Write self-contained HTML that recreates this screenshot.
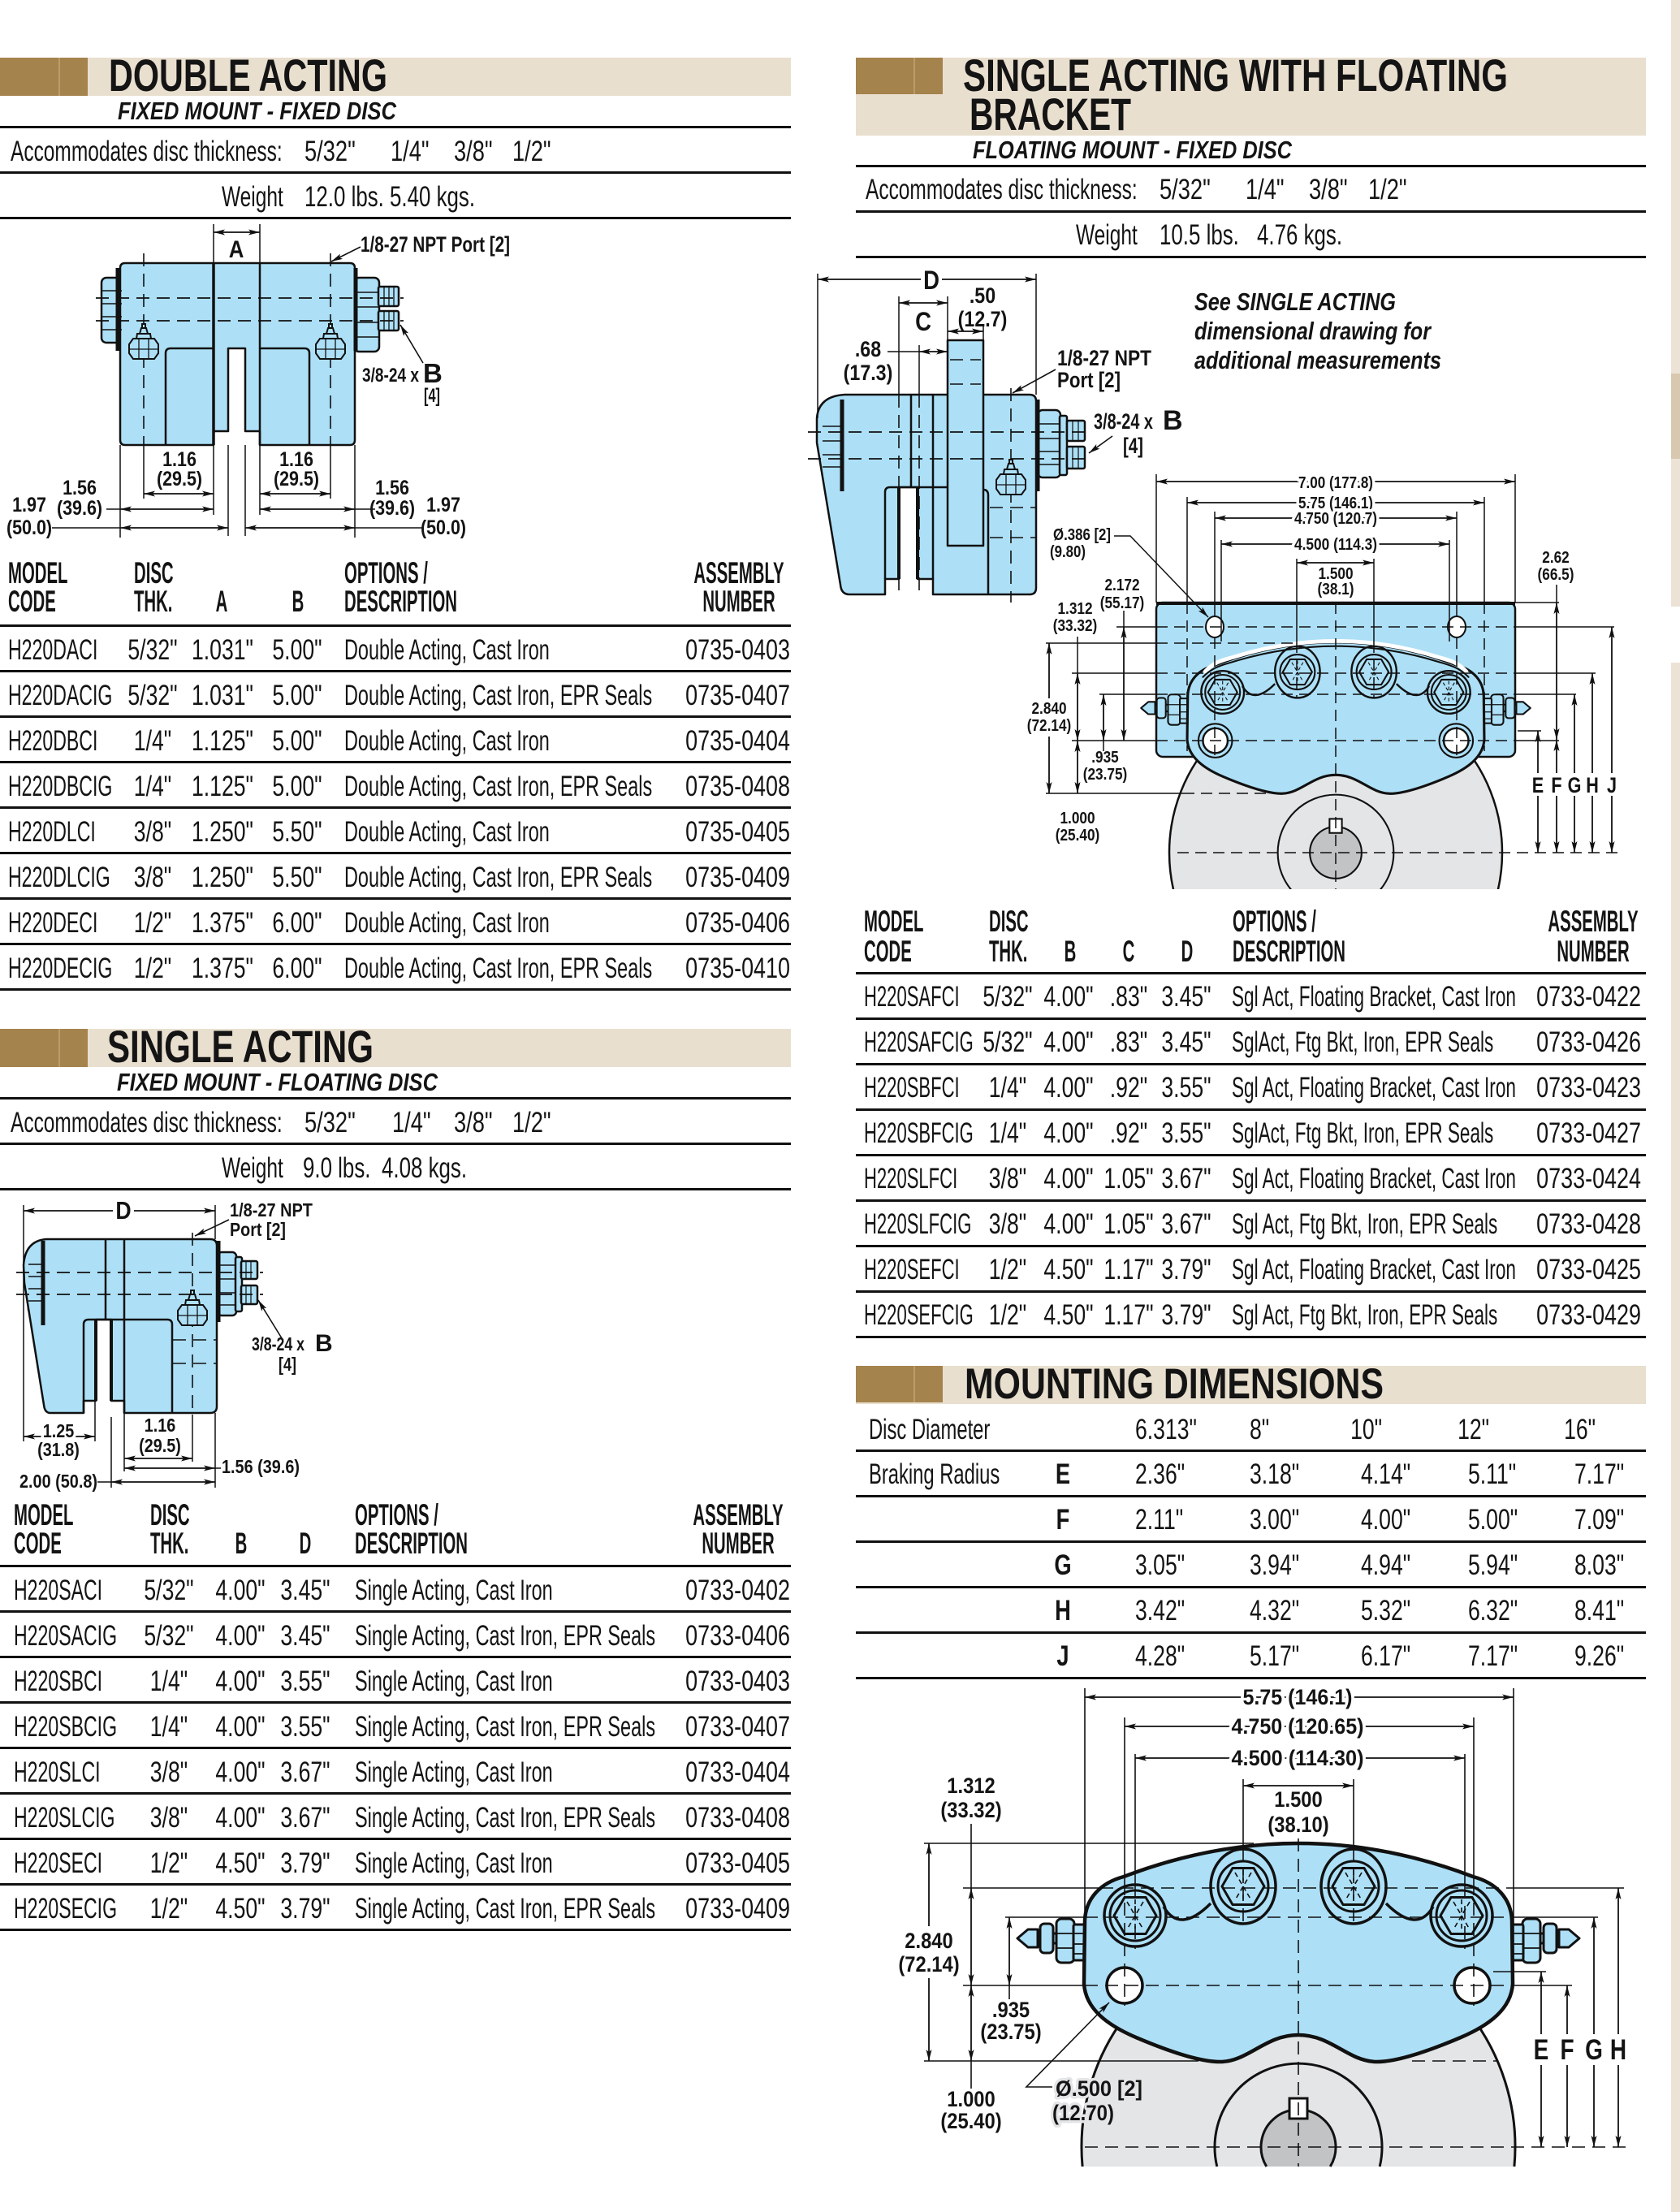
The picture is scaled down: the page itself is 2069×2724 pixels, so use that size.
<!DOCTYPE html>
<html><head><meta charset="utf-8"><title>H220 Caliper Specifications</title>
<style>
html,body{margin:0;padding:0;background:#fff;width:2069px;height:2724px;overflow:hidden}
svg{display:block}
text{font-family:"Liberation Sans",Arial,Helvetica,sans-serif;fill:#141414;stroke:none}
.b{font-weight:bold}
.i{font-style:italic}
.h{stroke:#fff;stroke-width:8px;paint-order:stroke;stroke-linejoin:round}
.hg{stroke:#e4e5e7;stroke-width:7px;paint-order:stroke;stroke-linejoin:round}
.t{font-size:35px}
.hd{font-size:37px;font-weight:bold}
</style></head><body>
<svg width="2069" height="2724" viewBox="0 0 2069 2724" xmlns="http://www.w3.org/2000/svg">
<defs>
<marker id="a" viewBox="0 0 14 8" refX="14" refY="4" markerWidth="14" markerHeight="8" orient="auto-start-reverse" markerUnits="userSpaceOnUse"><path d="M0,0.5 L14,4 L0,7.5 L3,4 z" fill="#111" stroke="none"/></marker>
<clipPath id="c4"><rect x="1380" y="700" width="540" height="395"/></clipPath>
<g id="bl" stroke="#111" stroke-width="2" fill="#ade0f7">
 <path d="M-18,-3 L-13,-10 H13 L18,-3 V8 L13,15 H-13 L-18,8 Z"/>
 <path d="M-6,-10 V15 M6,-10 V15 M-18,3 H18" fill="none" stroke-width="1.3"/>
 <path d="M-9,-10 L-8,-16 H8 L9,-10 Z"/>
 <path d="M-5,-16 L-3,-23 H3 L5,-16 Z"/>
 <rect x="-2" y="-28" width="4" height="5"/>
</g>
<g id="pst" stroke="#111">
 <circle r="31" fill="none" stroke-width="3"/>
 <polygon points="26,0 13,22.5 -13,22.5 -26,0 -13,-22.5 13,-22.5" fill="#ade0f7" stroke-width="3"/>
 <path d="M0,-20V20 M-10,-17 L10,17 M10,-17 L-10,17" stroke-width="1.6" stroke-dasharray="6 4" fill="none"/>
</g>
<g id="hub" stroke="#111" stroke-width="3">
 <circle r="103" fill="none"/>
 <circle r="46" fill="#c2c3c5"/>
 <rect x="-11" y="-60" width="22" height="25" fill="#fff"/>
</g>
<g id="blr" fill="#ade0f7" stroke="#111" stroke-width="3">
 <path d="M-346,-257 L-333,-268 H-321 V-246 H-333 Z"/>
 <rect x="-321" y="-263" width="64" height="12"/>
 <rect x="-318" y="-275" width="16" height="36" rx="5"/>
 <rect x="-298" y="-281" width="22" height="54" rx="6"/>
 <rect x="-277" y="-274" width="15" height="44" rx="2"/>
 <path d="M-298,-263h22M-298,-245h22M-277,-263h15M-277,-250h15M-277,-238h15" fill="none" stroke-width="1.8"/>
</g>
<g id="cal" stroke="#111" stroke-width="3.5" stroke-linejoin="round">
 <use href="#blr"/>
 <use href="#blr" transform="scale(-1,1)"/>
 <path d="M-263,-279 C-262,-305 -245,-325 -215,-333 Q0,-415 215,-333 C245,-325 262,-305 263,-279 L264,-201 C262,-170 235,-150 200,-135 C160,-118 120,-104 94,-105 C60,-107 40,-138 0,-138 C-40,-138 -60,-107 -94,-105 C-120,-104 -160,-118 -200,-135 C-235,-150 -262,-170 -264,-201 Z" fill="#ade0f7" stroke-width="4.5"/>
 <circle cx="-201" cy="-285" r="38" fill="none"/>
 <circle cx="201" cy="-285" r="38" fill="none"/>
 <ellipse cx="-68" cy="-321" rx="40" ry="46" fill="none"/>
 <ellipse cx="68" cy="-321" rx="40" ry="46" fill="none"/>
 <path d="M-166,-296 Q-146,-262 -108,-300 M166,-296 Q146,-262 108,-300" fill="none"/>
 <use href="#pst" x="-201" y="-285"/>
 <use href="#pst" x="-68" y="-321"/>
 <use href="#pst" x="68" y="-321"/>
 <use href="#pst" x="201" y="-285"/>
 <circle cx="-214" cy="-199" r="22" fill="#fff"/>
 <circle cx="214" cy="-199" r="22" fill="#fff"/>
</g>
</defs>

<!-- right edge strip -->
<rect x="2058" y="0" width="11" height="747" fill="#ece3d6"/>
<rect x="2058" y="816" width="11" height="1908" fill="#ece3d6"/>
<rect x="2058" y="460" width="11" height="105" fill="#d8c8b0"/>

<!-- ============ LEFT: DOUBLE ACTING ============ -->
<rect x="0" y="71" width="974" height="47" fill="#e9dfcf"/>
<rect x="0" y="71" width="108" height="47" fill="#a5834d"/>
<rect x="72" y="71" width="2" height="47" fill="#bc9c6c"/>
<text class="b" x="134" y="112" font-size="56" textLength="343" lengthAdjust="spacingAndGlyphs">DOUBLE ACTING</text>
<text class="b i" x="145" y="147" font-size="31" textLength="343" lengthAdjust="spacingAndGlyphs">FIXED MOUNT - FIXED DISC</text>
<g fill="#111">
<rect x="0" y="155" width="974" height="3"/><rect x="0" y="211" width="974" height="3"/><rect x="0" y="267" width="974" height="3"/>
</g>
<g class="t">
<text transform="translate(13,198) scale(.7,1)">Accommodates disc thickness:</text>
<text transform="translate(375,198) scale(.78,1)">5/32"</text>
<text transform="translate(481,198) scale(.78,1)">1/4"</text>
<text transform="translate(559,198) scale(.78,1)">3/8"</text>
<text transform="translate(631,198) scale(.78,1)">1/2"</text>
<text transform="translate(273,254) scale(.7,1)">Weight</text>
<text transform="translate(375,254) scale(.74,1)">12.0 lbs. 5.40 kgs.</text>
</g>

<!-- Drawing 1 -->
<g stroke="#111" stroke-width="2.5" fill="#ade0f7" stroke-linejoin="round">
 <rect x="125" y="342" width="25" height="80" rx="6"/>
 <rect x="436" y="342" width="31" height="91" rx="6"/>
 <rect x="466" y="353" width="25" height="24" rx="2"/>
 <rect x="466" y="383" width="25" height="24" rx="2"/>
 <path d="M154,324 H431 Q437,324 437,330 V542 Q437,548 431,548 H320 V531 H302 V429 H281 V531 H263 V548 H154 Q148,548 148,542 V330 Q148,324 154,324 Z"/>
</g>
<g stroke="#111" fill="none">
 <path d="M125,358h25M125,374h25M125,390h25M125,406h25" stroke-width="1.5"/>
 <path d="M436,360h31M436,378h31M436,397h31M436,415h31" stroke-width="1.5"/>
 <path d="M473,353v24M479,353v24M485,353v24M473,383v24M479,383v24M485,383v24" stroke-width="1.3"/>
 <path d="M320,324V548M204,548V435Q204,429 210,429H263M381,548V435Q381,429 375,429H320" stroke-width="2.5"/>
 <path d="M263,324V548" stroke-width="3.5"/>
 <path d="M145,330V432M438,330V432" stroke-width="5"/>
 <path d="M118,367H497M118,395H497" stroke-width="1.8" stroke-dasharray="16 9"/>
 <path d="M177,312V548M407,312V548" stroke-width="1.6" stroke-dasharray="16 9"/>
 <path d="M263,276V324M320,276V324" stroke-width="1.5"/>
 <path d="M148,548V662M177,548V614M263,548V634M281,548V660M302,548V660M320,548V634M407,548V614M437,548V662" stroke-width="1.5"/>
 <path d="M131,627H148M437,627H462M64,650H148M437,650H520" stroke-width="1.5"/>
</g>
<use href="#bl" x="177" y="427"/>
<use href="#bl" x="407" y="427"/>
<g stroke="#111" stroke-width="1.8" marker-start="url(#a)" marker-end="url(#a)">
 <line x1="263" y1="286" x2="320" y2="286"/>
 <line x1="177" y1="608" x2="263" y2="608"/>
 <line x1="320" y1="608" x2="407" y2="608"/>
 <line x1="148" y1="627" x2="263" y2="627"/>
 <line x1="320" y1="627" x2="437" y2="627"/>
 <line x1="148" y1="650" x2="281" y2="650"/>
 <line x1="302" y1="650" x2="437" y2="650"/>
</g>
<g stroke="#111" stroke-width="1.6" marker-end="url(#a)">
 <line x1="444" y1="304" x2="408" y2="322"/>
 <line x1="521" y1="447" x2="493" y2="400"/>
</g>
<g class="b">
 <text transform="translate(291,317) scale(.86,1)" text-anchor="middle" font-size="30">A</text>
 <text x="444" y="310" font-size="27" textLength="184" lengthAdjust="spacingAndGlyphs">1/8-27 NPT Port [2]</text>
 <text x="446" y="470" font-size="24" textLength="70" lengthAdjust="spacingAndGlyphs">3/8-24 x</text>
 <text x="521" y="471" font-size="33">B</text>
 <text x="522" y="495" font-size="24" textLength="20" lengthAdjust="spacingAndGlyphs">[4]</text>
 <g font-size="25" text-anchor="middle">
  <text transform="translate(221,574) scale(.86,1)">1.16</text><text transform="translate(221,598) scale(.86,1)">(29.5)</text>
  <text transform="translate(365,574) scale(.86,1)">1.16</text><text transform="translate(365,598) scale(.86,1)">(29.5)</text>
  <text transform="translate(98,609) scale(.86,1)">1.56</text><text transform="translate(98,634) scale(.86,1)">(39.6)</text>
  <text transform="translate(483,609) scale(.86,1)">1.56</text><text transform="translate(483,634) scale(.86,1)">(39.6)</text>
  <text transform="translate(36,630) scale(.86,1)">1.97</text><text transform="translate(36,658) scale(.86,1)">(50.0)</text>
  <text transform="translate(546,630) scale(.86,1)">1.97</text><text transform="translate(546,658) scale(.86,1)">(50.0)</text>
 </g>
</g>

<!-- Table 1 -->
<g class="hd">
 <g transform="translate(10,0) scale(.55,1)"><text y="718">MODEL</text><text y="753">CODE</text></g>
 <g transform="translate(165,0) scale(.55,1)"><text y="718">DISC</text><text y="753">THK.</text></g>
 <g transform="translate(273,0) scale(.55,1)" text-anchor="middle"><text y="753">A</text></g>
 <g transform="translate(367,0) scale(.55,1)" text-anchor="middle"><text y="753">B</text></g>
 <g transform="translate(424,0) scale(.55,1)"><text y="718">OPTIONS /</text><text y="753">DESCRIPTION</text></g>
 <g transform="translate(910,0) scale(.55,1)" text-anchor="middle"><text y="718">ASSEMBLY</text><text y="753">NUMBER</text></g>
</g>
<g fill="#111">
 <rect x="0" y="769" width="974" height="3"/><rect x="0" y="825" width="974" height="3"/><rect x="0" y="881" width="974" height="3"/><rect x="0" y="937" width="974" height="3"/><rect x="0" y="993" width="974" height="3"/><rect x="0" y="1049" width="974" height="3"/><rect x="0" y="1105" width="974" height="3"/><rect x="0" y="1161" width="974" height="3"/><rect x="0" y="1217" width="974" height="3"/>
</g>
<g class="t">
 <g transform="translate(10,0) scale(.66,1)"><text y="812">H220DACI</text><text y="868">H220DACIG</text><text y="924">H220DBCI</text><text y="980">H220DBCIG</text><text y="1036">H220DLCI</text><text y="1092">H220DLCIG</text><text y="1148">H220DECI</text><text y="1204">H220DECIG</text></g>
 <g transform="translate(188,0) scale(.76,1)" text-anchor="middle"><text y="812">5/32"</text><text y="868">5/32"</text><text y="924">1/4"</text><text y="980">1/4"</text><text y="1036">3/8"</text><text y="1092">3/8"</text><text y="1148">1/2"</text><text y="1204">1/2"</text></g>
 <g transform="translate(274,0) scale(.76,1)" text-anchor="middle"><text y="812">1.031"</text><text y="868">1.031"</text><text y="924">1.125"</text><text y="980">1.125"</text><text y="1036">1.250"</text><text y="1092">1.250"</text><text y="1148">1.375"</text><text y="1204">1.375"</text></g>
 <g transform="translate(366,0) scale(.76,1)" text-anchor="middle"><text y="812">5.00"</text><text y="868">5.00"</text><text y="924">5.00"</text><text y="980">5.00"</text><text y="1036">5.50"</text><text y="1092">5.50"</text><text y="1148">6.00"</text><text y="1204">6.00"</text></g>
 <g transform="translate(424,0) scale(.67,1)"><text y="812">Double Acting, Cast Iron</text><text y="868">Double Acting, Cast Iron, EPR Seals</text><text y="924">Double Acting, Cast Iron</text><text y="980">Double Acting, Cast Iron, EPR Seals</text><text y="1036">Double Acting, Cast Iron</text><text y="1092">Double Acting, Cast Iron, EPR Seals</text><text y="1148">Double Acting, Cast Iron</text><text y="1204">Double Acting, Cast Iron, EPR Seals</text></g>
 <g transform="translate(973,0) scale(.77,1)" text-anchor="end"><text y="812">0735-0403</text><text y="868">0735-0407</text><text y="924">0735-0404</text><text y="980">0735-0408</text><text y="1036">0735-0405</text><text y="1092">0735-0409</text><text y="1148">0735-0406</text><text y="1204">0735-0410</text></g>
</g>

<!-- ============ LEFT: SINGLE ACTING ============ -->
<rect x="0" y="1267" width="974" height="47" fill="#e9dfcf"/>
<rect x="0" y="1267" width="108" height="47" fill="#a5834d"/>
<rect x="72" y="1267" width="2" height="47" fill="#bc9c6c"/>
<text class="b" x="132" y="1308" font-size="56" textLength="328" lengthAdjust="spacingAndGlyphs">SINGLE ACTING</text>
<text class="b i" x="144" y="1343" font-size="31" textLength="395" lengthAdjust="spacingAndGlyphs">FIXED MOUNT - FLOATING DISC</text>
<g fill="#111">
<rect x="0" y="1351" width="974" height="3"/><rect x="0" y="1407" width="974" height="3"/><rect x="0" y="1463" width="974" height="3"/>
</g>
<g class="t">
<text transform="translate(13,1394) scale(.7,1)">Accommodates disc thickness:</text>
<text transform="translate(375,1394) scale(.78,1)">5/32"</text>
<text transform="translate(483,1394) scale(.78,1)">1/4"</text>
<text transform="translate(559,1394) scale(.78,1)">3/8"</text>
<text transform="translate(631,1394) scale(.78,1)">1/2"</text>
<text transform="translate(273,1450) scale(.7,1)">Weight</text>
<text transform="translate(373,1450) scale(.74,1)">9.0 lbs.</text>
<text transform="translate(470,1450) scale(.74,1)">4.08 kgs.</text>
</g>

<!-- Drawing 2 -->
<g stroke="#111" stroke-width="2.5" fill="#ade0f7" stroke-linejoin="round">
 <rect x="35" y="1542" width="20" height="75" rx="5"/>
 <rect x="268" y="1542" width="23" height="78" rx="5"/>
 <rect x="290" y="1548" width="8" height="67" rx="2"/>
 <rect x="297" y="1553" width="20" height="22" rx="2"/>
 <rect x="297" y="1583" width="20" height="23" rx="2"/>
 <path d="M57,1526 H259 Q267,1526 267,1534 V1732 Q267,1740 259,1740 H153 V1725 H137 V1625 H118 V1725 H103 V1740 H62 Q55,1740 54,1730 L30,1580 L29,1558 Q31,1528 57,1526 Z"/>
</g>
<g stroke="#111" fill="none">
 <path d="M35,1557h20M35,1572h20M35,1587h20M35,1602h20" stroke-width="1.4"/>
 <path d="M268,1558h23M268,1575h23M268,1592h23M268,1607h23" stroke-width="1.4"/>
 <path d="M303,1553v22M309,1553v22M303,1583v23M309,1583v23" stroke-width="1.2"/>
 <path d="M103,1740 V1631 Q103,1625 109,1625 H206 Q212,1625 212,1631 V1740 M130,1526 V1625 M153,1526 V1740" stroke-width="2.5"/>
 <path d="M118,1625V1725M137,1625V1725" stroke-width="4"/>
 <path d="M53,1528V1632M269,1528V1628" stroke-width="5"/>
 <path d="M20,1567H324M20,1594H324" stroke-width="1.8" stroke-dasharray="16 9"/>
 <path d="M237,1518V1742M213,1650H266M213,1679H266" stroke-width="1.6" stroke-dasharray="16 9"/>
 <path d="M29,1484V1775M265,1484V1526M117,1725V1775M137,1745V1832M153,1740V1812M237,1742V1800M265,1740V1832M265,1808H272M120,1825H137" stroke-width="1.5"/>
</g>
<use href="#bl" x="237" y="1617"/>
<g stroke="#111" stroke-width="1.8" marker-start="url(#a)" marker-end="url(#a)">
 <line x1="29" y1="1491" x2="265" y2="1491"/>
 <line x1="29" y1="1769" x2="117" y2="1769"/>
 <line x1="153" y1="1796" x2="237" y2="1796"/>
 <line x1="153" y1="1808" x2="265" y2="1808"/>
 <line x1="137" y1="1825" x2="265" y2="1825"/>
</g>
<g stroke="#111" stroke-width="1.6" marker-end="url(#a)">
 <line x1="282" y1="1502" x2="240" y2="1522"/>
 <line x1="347" y1="1648" x2="318" y2="1601"/>
</g>
<rect x="139" y="1476" width="26" height="28" fill="#fff"/>
<g class="b">
 <text transform="translate(152,1501) scale(.86,1)" text-anchor="middle" font-size="31">D</text>
 <text x="283" y="1498" font-size="23" textLength="102" lengthAdjust="spacingAndGlyphs">1/8-27 NPT</text>
 <text x="283" y="1522" font-size="23" textLength="69" lengthAdjust="spacingAndGlyphs">Port [2]</text>
 <text x="310" y="1663" font-size="23" textLength="65" lengthAdjust="spacingAndGlyphs">3/8-24 x</text>
 <text x="388" y="1664" font-size="30">B</text>
 <text x="343" y="1688" font-size="23" textLength="22" lengthAdjust="spacingAndGlyphs">[4]</text>
 <g font-size="23" text-anchor="middle">
  <text class="h" transform="translate(72,1770) scale(.86,1)">1.25</text><text transform="translate(72,1793) scale(.86,1)">(31.8)</text>
  <text transform="translate(197,1763) scale(.86,1)">1.16</text><text transform="translate(197,1788) scale(.86,1)">(29.5)</text>
 </g>
 <text x="273" y="1814" font-size="23" textLength="96" lengthAdjust="spacingAndGlyphs">1.56 (39.6)</text>
 <text x="24" y="1832" font-size="23" textLength="96" lengthAdjust="spacingAndGlyphs">2.00 (50.8)</text>
</g>

<!-- Table 2 -->
<g class="hd">
 <g transform="translate(17,0) scale(.55,1)"><text y="1878">MODEL</text><text y="1913">CODE</text></g>
 <g transform="translate(185,0) scale(.55,1)"><text y="1878">DISC</text><text y="1913">THK.</text></g>
 <g transform="translate(297,0) scale(.55,1)" text-anchor="middle"><text y="1913">B</text></g>
 <g transform="translate(376,0) scale(.55,1)" text-anchor="middle"><text y="1913">D</text></g>
 <g transform="translate(437,0) scale(.55,1)"><text y="1878">OPTIONS /</text><text y="1913">DESCRIPTION</text></g>
 <g transform="translate(909,0) scale(.55,1)" text-anchor="middle"><text y="1878">ASSEMBLY</text><text y="1913">NUMBER</text></g>
</g>
<g fill="#111">
 <rect x="0" y="1927" width="974" height="3"/><rect x="0" y="1983" width="974" height="3"/><rect x="0" y="2039" width="974" height="3"/><rect x="0" y="2095" width="974" height="3"/><rect x="0" y="2151" width="974" height="3"/><rect x="0" y="2207" width="974" height="3"/><rect x="0" y="2263" width="974" height="3"/><rect x="0" y="2319" width="974" height="3"/><rect x="0" y="2375" width="974" height="3"/>
</g>
<g class="t">
 <g transform="translate(17,0) scale(.66,1)"><text y="1970">H220SACI</text><text y="2026">H220SACIG</text><text y="2082">H220SBCI</text><text y="2138">H220SBCIG</text><text y="2194">H220SLCI</text><text y="2250">H220SLCIG</text><text y="2306">H220SECI</text><text y="2362">H220SECIG</text></g>
 <g transform="translate(208,0) scale(.76,1)" text-anchor="middle"><text y="1970">5/32"</text><text y="2026">5/32"</text><text y="2082">1/4"</text><text y="2138">1/4"</text><text y="2194">3/8"</text><text y="2250">3/8"</text><text y="2306">1/2"</text><text y="2362">1/2"</text></g>
 <g transform="translate(296,0) scale(.76,1)" text-anchor="middle"><text y="1970">4.00"</text><text y="2026">4.00"</text><text y="2082">4.00"</text><text y="2138">4.00"</text><text y="2194">4.00"</text><text y="2250">4.00"</text><text y="2306">4.50"</text><text y="2362">4.50"</text></g>
 <g transform="translate(376,0) scale(.76,1)" text-anchor="middle"><text y="1970">3.45"</text><text y="2026">3.45"</text><text y="2082">3.55"</text><text y="2138">3.55"</text><text y="2194">3.67"</text><text y="2250">3.67"</text><text y="2306">3.79"</text><text y="2362">3.79"</text></g>
 <g transform="translate(437,0) scale(.67,1)"><text y="1970">Single Acting, Cast Iron</text><text y="2026">Single Acting, Cast Iron, EPR Seals</text><text y="2082">Single Acting, Cast Iron</text><text y="2138">Single Acting, Cast Iron, EPR Seals</text><text y="2194">Single Acting, Cast Iron</text><text y="2250">Single Acting, Cast Iron, EPR Seals</text><text y="2306">Single Acting, Cast Iron</text><text y="2362">Single Acting, Cast Iron, EPR Seals</text></g>
 <g transform="translate(973,0) scale(.77,1)" text-anchor="end"><text y="1970">0733-0402</text><text y="2026">0733-0406</text><text y="2082">0733-0403</text><text y="2138">0733-0407</text><text y="2194">0733-0404</text><text y="2250">0733-0408</text><text y="2306">0733-0405</text><text y="2362">0733-0409</text></g>
</g>

<!-- ============ RIGHT: FLOATING BRACKET ============ -->
<rect x="1054" y="71" width="973" height="96" fill="#e9dfcf"/>
<rect x="1054" y="71" width="107" height="45" fill="#a5834d"/>
<rect x="1125" y="71" width="2" height="45" fill="#bc9c6c"/>
<text class="b" x="1186" y="112" font-size="56" textLength="671" lengthAdjust="spacingAndGlyphs">SINGLE ACTING WITH FLOATING</text>
<text class="b" x="1194" y="160" font-size="56" textLength="199" lengthAdjust="spacingAndGlyphs">BRACKET</text>
<text class="b i" x="1198" y="195" font-size="31" textLength="393" lengthAdjust="spacingAndGlyphs">FLOATING MOUNT - FIXED DISC</text>
<g fill="#111">
<rect x="1054" y="203" width="973" height="3"/><rect x="1054" y="259" width="973" height="3"/><rect x="1054" y="315" width="973" height="3"/>
</g>
<g class="t">
<text transform="translate(1066,245) scale(.7,1)">Accommodates disc thickness:</text>
<text transform="translate(1428,245) scale(.78,1)">5/32"</text>
<text transform="translate(1534,245) scale(.78,1)">1/4"</text>
<text transform="translate(1612,245) scale(.78,1)">3/8"</text>
<text transform="translate(1685,245) scale(.78,1)">1/2"</text>
<text transform="translate(1325,301) scale(.7,1)">Weight</text>
<text transform="translate(1428,301) scale(.74,1)">10.5 lbs.</text>
<text transform="translate(1548,301) scale(.74,1)">4.76 kgs.</text>
</g>
<g class="b i" font-size="31">
 <text x="1471" y="382" textLength="248" lengthAdjust="spacingAndGlyphs">See SINGLE ACTING</text>
 <text x="1471" y="418" textLength="291" lengthAdjust="spacingAndGlyphs">dimensional drawing for</text>
 <text x="1471" y="454" textLength="304" lengthAdjust="spacingAndGlyphs">additional measurements</text>
</g>

<!-- Drawing 3: floating side view -->
<g stroke="#111" stroke-width="2.5" fill="#ade0f7" stroke-linejoin="round">
 <rect x="1013" y="507" width="22" height="83" rx="6"/>
 <rect x="1278" y="505" width="28" height="83" rx="6"/>
 <rect x="1305" y="512" width="9" height="73" rx="2"/>
 <rect x="1314" y="518" width="22" height="25" rx="2"/>
 <rect x="1314" y="550" width="22" height="27" rx="2"/>
 <path d="M1040,486 H1268 Q1276,486 1276,494 V724 Q1276,732 1268,732 H1149 V713 H1130 V600 H1107 V713 H1090 V732 H1046 Q1036,732 1035,720 L1006,545 L1006,515 Q1008,488 1040,486 Z"/>
 <rect x="1167" y="419" width="44" height="253"/>
</g>
<g stroke="#111" fill="none">
 <path d="M1013,525h22M1013,543h22M1013,560h22M1013,575h22" stroke-width="1.4"/>
 <path d="M1278,522h28M1278,540h28M1278,556h28M1278,572h28" stroke-width="1.4"/>
 <path d="M1321,518v25M1328,518v25M1321,550v27M1328,550v27" stroke-width="1.2"/>
 <path d="M1090,713 V606 Q1090,600 1096,600 H1167 M1122,486 V600 M1149,486 V713 M1217,732 V610 Q1217,603 1211,603" stroke-width="2.5"/>
 <path d="M1107,600V713M1130,600V713" stroke-width="4"/>
 <path d="M1037,492V605M1278,492V605" stroke-width="5"/>
 <path d="M995,532H1342M995,565H1342" stroke-width="1.8" stroke-dasharray="16 9"/>
 <path d="M1107,486V732M1132,486V732M1245,478V742M1170,443H1208M1170,473H1208M1219,625H1275M1219,662H1275" stroke-width="1.6" stroke-dasharray="16 9"/>
 <path d="M1007,337V515M1276,337V486M1107,365V486M1167,365V419M1211,400V419M1132,425V486M1093,433H1132" stroke-width="1.5"/>
</g>
<use href="#bl" x="1245" y="594"/>
<g stroke="#111" stroke-width="1.8" marker-start="url(#a)" marker-end="url(#a)">
 <line x1="1007" y1="344" x2="1276" y2="344"/>
 <line x1="1107" y1="373" x2="1167" y2="373"/>
 <line x1="1167" y1="408" x2="1211" y2="408"/>
 <line x1="1132" y1="433" x2="1167" y2="433"/>
</g>
<g stroke="#111" stroke-width="1.6" marker-end="url(#a)">
 <line x1="1300" y1="455" x2="1247" y2="484"/>
 <line x1="1370" y1="537" x2="1341" y2="558"/>
</g>
<rect x="1134" y="331" width="26" height="28" fill="#fff"/>
<g class="b">
 <text transform="translate(1147,356) scale(.86,1)" text-anchor="middle" font-size="32">D</text>
 <text transform="translate(1137,407) scale(.86,1)" text-anchor="middle" font-size="32">C</text>
 <g font-size="27" text-anchor="middle">
  <text transform="translate(1210,373) scale(.86,1)">.50</text><text transform="translate(1210,402) scale(.86,1)">(12.7)</text>
  <text transform="translate(1069,439) scale(.86,1)">.68</text><text transform="translate(1069,468) scale(.86,1)">(17.3)</text>
 </g>
 <text x="1302" y="450" font-size="27" textLength="116" lengthAdjust="spacingAndGlyphs">1/8-27 NPT</text>
 <text x="1302" y="477" font-size="27" textLength="78" lengthAdjust="spacingAndGlyphs">Port [2]</text>
 <text x="1347" y="528" font-size="27" textLength="73" lengthAdjust="spacingAndGlyphs">3/8-24 x</text>
 <text x="1432" y="529" font-size="34">B</text>
 <text x="1383" y="558" font-size="27" textLength="25" lengthAdjust="spacingAndGlyphs">[4]</text>
</g>

<!-- Drawing 4: floating front view -->
<g clip-path="url(#c4)">
 <circle cx="1645" cy="1050" r="205" fill="#e4e5e7" stroke="#111" stroke-width="2.5"/>
 <use href="#hub" transform="translate(1645,1050) scale(.693)"/>
</g>
<rect x="1424" y="742" width="442" height="190" rx="8" fill="#ade0f7" stroke="#111" stroke-width="2.5"/>
<line x1="1424" y1="743" x2="1866" y2="743" stroke="#111" stroke-width="4"/>
<ellipse cx="1496" cy="772" rx="11" ry="13" fill="#fff" stroke="#111" stroke-width="2"/>
<ellipse cx="1794" cy="772" rx="11" ry="13" fill="#fff" stroke="#111" stroke-width="2"/>
<use href="#cal" transform="translate(1645,1050) scale(.693)"/>
<g transform="translate(1645,1050) scale(.693)" fill="none" stroke-linecap="round">
 <path d="M-232,-322 C-215,-340 -200,-342 -180,-348 Q0,-404 180,-348 C200,-342 215,-340 232,-322" stroke="#fff" stroke-width="7"/>
 <path d="M-236,-312 C-218,-330 -203,-333 -183,-339 Q0,-395 183,-339 C203,-333 218,-330 236,-312" stroke="#111" stroke-width="3"/>
 <circle cx="-214" cy="-199" r="30" stroke="#111" stroke-width="3"/>
 <circle cx="214" cy="-199" r="30" stroke="#111" stroke-width="3"/>
</g>
<g stroke="#111" fill="none" stroke-width="1.5">
 <path d="M1866,742H1920M1375,772H1424M1866,772H1988M1288,792H1424M1320,829H1424M1866,829H1965M1354,855H1424M1866,855H1941M1869,900H1898M1320,912H1424M1866,912H1920M1288,977H1457"/>
 <path d="M1424,584V742M1866,584V742M1462,612V742M1828,612V742M1496,630V760M1794,630V760M1504,665V790M1785,665V790M1597,688V790M1692,688V790M1327,784V829M1384,752V772M1359,912V925M1917,720V742"/>
 <path d="M1424,772H1866M1424,792H1600M1424,829H1866M1424,855H1866M1424,912H1866M1457,977H1560M1450,1050H1992M1645,742V1095M1462,742V925M1828,742V925M1496,785V930M1794,785V930M1597,790V860M1692,790V860" stroke-dasharray="14 8"/>
</g>
<g stroke="#111" stroke-width="1.8" marker-start="url(#a)" marker-end="url(#a)">
 <line x1="1424" y1="593" x2="1866" y2="593"/>
 <line x1="1462" y1="619" x2="1828" y2="619"/>
 <line x1="1496" y1="638" x2="1794" y2="638"/>
 <line x1="1504" y1="670" x2="1785" y2="670"/>
 <line x1="1597" y1="693" x2="1692" y2="693"/>
 <line x1="1327" y1="829" x2="1327" y2="912"/>
 <line x1="1327" y1="912" x2="1327" y2="977"/>
 <line x1="1384" y1="772" x2="1384" y2="912"/>
 <line x1="1359" y1="855" x2="1359" y2="912"/>
 <line x1="1894" y1="900" x2="1894" y2="1050"/>
 <line x1="1917" y1="742" x2="1917" y2="911"/>
 <line x1="1917" y1="911" x2="1917" y2="1050"/>
 <line x1="1939" y1="855" x2="1939" y2="1050"/>
 <line x1="1961" y1="829" x2="1961" y2="1050"/>
 <line x1="1985" y1="772" x2="1985" y2="1050"/>
</g>
<g stroke="#111" stroke-width="1.8">
 <line x1="1292" y1="792" x2="1292" y2="860" marker-start="url(#a)"/>
 <line x1="1292" y1="907" x2="1292" y2="977" marker-end="url(#a)"/>
</g>
<polyline points="1372,660 1392,660 1488,760" fill="none" stroke="#111" stroke-width="1.5" marker-end="url(#a)"/>
<g fill="#fff">
 <rect x="1885" y="952" width="18" height="28"/><rect x="1908" y="952" width="18" height="28"/><rect x="1930" y="952" width="18" height="28"/><rect x="1952" y="952" width="18" height="28"/><rect x="1976" y="952" width="18" height="28"/>
</g>
<g class="b" font-size="20" text-anchor="middle">
 <text class="h" x="1645" y="601" textLength="92" lengthAdjust="spacingAndGlyphs">7.00 (177.8)</text>
 <text class="h" x="1645" y="626" textLength="92" lengthAdjust="spacingAndGlyphs">5.75 (146.1)</text>
 <text class="h" x="1645" y="645" textLength="102" lengthAdjust="spacingAndGlyphs">4.750 (120.7)</text>
 <text class="h" x="1645" y="677" textLength="102" lengthAdjust="spacingAndGlyphs">4.500 (114.3)</text>
 <text transform="translate(1645,713) scale(.86,1)">1.500</text><text transform="translate(1645,732) scale(.86,1)">(38.1)</text>
 <text transform="translate(1382,727) scale(.86,1)">2.172</text><text transform="translate(1382,749) scale(.86,1)">(55.17)</text>
 <text transform="translate(1324,756) scale(.86,1)">1.312</text><text transform="translate(1324,777) scale(.86,1)">(33.32)</text>
 <text transform="translate(1292,879) scale(.86,1)">2.840</text><text transform="translate(1292,900) scale(.86,1)">(72.14)</text>
 <text transform="translate(1361,939) scale(.86,1)">.935</text><text transform="translate(1361,960) scale(.86,1)">(23.75)</text>
 <text transform="translate(1327,1014) scale(.86,1)">1.000</text><text transform="translate(1327,1035) scale(.86,1)">(25.40)</text>
 <text transform="translate(1916,693) scale(.86,1)">2.62</text><text transform="translate(1916,714) scale(.86,1)">(66.5)</text>
</g>
<g class="b">
 <text x="1297" y="665" font-size="20" textLength="71" lengthAdjust="spacingAndGlyphs">Ø.386 [2]</text>
 <text x="1293" y="686" font-size="20" textLength="44" lengthAdjust="spacingAndGlyphs">(9.80)</text>
</g>
<g class="b" font-size="27" text-anchor="middle">
 <text transform="translate(1894,976) scale(.8,1)">E</text>
 <text transform="translate(1917,976) scale(.8,1)">F</text>
 <text transform="translate(1939,976) scale(.8,1)">G</text>
 <text transform="translate(1961,976) scale(.8,1)">H</text>
 <text transform="translate(1985,976) scale(.8,1)">J</text>
</g>

<!-- Table 3 -->
<g class="hd">
 <g transform="translate(1064,0) scale(.55,1)"><text y="1147">MODEL</text><text y="1184">CODE</text></g>
 <g transform="translate(1218,0) scale(.55,1)"><text y="1147">DISC</text><text y="1184">THK.</text></g>
 <g transform="translate(1318,0) scale(.55,1)" text-anchor="middle"><text y="1184">B</text></g>
 <g transform="translate(1390,0) scale(.55,1)" text-anchor="middle"><text y="1184">C</text></g>
 <g transform="translate(1462,0) scale(.55,1)" text-anchor="middle"><text y="1184">D</text></g>
 <g transform="translate(1518,0) scale(.55,1)"><text y="1147">OPTIONS /</text><text y="1184">DESCRIPTION</text></g>
 <g transform="translate(1962,0) scale(.55,1)" text-anchor="middle"><text y="1147">ASSEMBLY</text><text y="1184">NUMBER</text></g>
</g>
<g fill="#111">
 <rect x="1054" y="1197" width="973" height="3"/><rect x="1054" y="1253" width="973" height="3"/><rect x="1054" y="1309" width="973" height="3"/><rect x="1054" y="1365" width="973" height="3"/><rect x="1054" y="1421" width="973" height="3"/><rect x="1054" y="1477" width="973" height="3"/><rect x="1054" y="1533" width="973" height="3"/><rect x="1054" y="1589" width="973" height="3"/><rect x="1054" y="1645" width="973" height="3"/>
</g>
<g class="t">
 <g transform="translate(1064,0) scale(.63,1)"><text y="1239">H220SAFCI</text><text y="1295">H220SAFCIG</text><text y="1351">H220SBFCI</text><text y="1407">H220SBFCIG</text><text y="1463">H220SLFCI</text><text y="1519">H220SLFCIG</text><text y="1575">H220SEFCI</text><text y="1631">H220SEFCIG</text></g>
 <g transform="translate(1241,0) scale(.76,1)" text-anchor="middle"><text y="1239">5/32"</text><text y="1295">5/32"</text><text y="1351">1/4"</text><text y="1407">1/4"</text><text y="1463">3/8"</text><text y="1519">3/8"</text><text y="1575">1/2"</text><text y="1631">1/2"</text></g>
 <g transform="translate(1316,0) scale(.76,1)" text-anchor="middle"><text y="1239">4.00"</text><text y="1295">4.00"</text><text y="1351">4.00"</text><text y="1407">4.00"</text><text y="1463">4.00"</text><text y="1519">4.00"</text><text y="1575">4.50"</text><text y="1631">4.50"</text></g>
 <g transform="translate(1390,0) scale(.76,1)" text-anchor="middle"><text y="1239">.83"</text><text y="1295">.83"</text><text y="1351">.92"</text><text y="1407">.92"</text><text y="1463">1.05"</text><text y="1519">1.05"</text><text y="1575">1.17"</text><text y="1631">1.17"</text></g>
 <g transform="translate(1461,0) scale(.76,1)" text-anchor="middle"><text y="1239">3.45"</text><text y="1295">3.45"</text><text y="1351">3.55"</text><text y="1407">3.55"</text><text y="1463">3.67"</text><text y="1519">3.67"</text><text y="1575">3.79"</text><text y="1631">3.79"</text></g>
 <g transform="translate(1517,0) scale(.645,1)"><text y="1239">Sgl Act, Floating Bracket, Cast Iron</text><text y="1295">SglAct, Ftg Bkt, Iron, EPR Seals</text><text y="1351">Sgl Act, Floating Bracket, Cast Iron</text><text y="1407">SglAct, Ftg Bkt, Iron, EPR Seals</text><text y="1463">Sgl Act, Floating Bracket, Cast Iron</text><text y="1519">Sgl Act, Ftg Bkt, Iron, EPR Seals</text><text y="1575">Sgl Act, Floating Bracket, Cast Iron</text><text y="1631">Sgl Act, Ftg Bkt, Iron, EPR Seals</text></g>
 <g transform="translate(2021,0) scale(.77,1)" text-anchor="end"><text y="1239">0733-0422</text><text y="1295">0733-0426</text><text y="1351">0733-0423</text><text y="1407">0733-0427</text><text y="1463">0733-0424</text><text y="1519">0733-0428</text><text y="1575">0733-0425</text><text y="1631">0733-0429</text></g>
</g>

<!-- ============ MOUNTING DIMENSIONS ============ -->
<rect x="1054" y="1682" width="973" height="47" fill="#e9dfcf"/>
<rect x="1054" y="1682" width="107" height="45" fill="#a5834d"/>
<rect x="1125" y="1682" width="2" height="45" fill="#bc9c6c"/>
<text class="b" x="1188" y="1722" font-size="53" textLength="516" lengthAdjust="spacingAndGlyphs">MOUNTING DIMENSIONS</text>
<g fill="#111">
 <rect x="1054" y="1785" width="973" height="3"/><rect x="1054" y="1841" width="973" height="3"/><rect x="1054" y="1897" width="973" height="3"/><rect x="1054" y="1953" width="973" height="3"/><rect x="1054" y="2009" width="973" height="3"/><rect x="1054" y="2065" width="973" height="3"/>
</g>
<g class="t">
 <g transform="translate(1070,0) scale(.68,1)"><text y="1772">Disc Diameter</text><text y="1827">Braking Radius</text></g>
 <g class="b" transform="translate(1309,0) scale(.78,1)" text-anchor="middle"><text y="1827">E</text><text y="1883">F</text><text y="1939">G</text><text y="1995">H</text><text y="2051">J</text></g>
 <g transform="translate(1398,0) scale(.76,1)"><text y="1772">6.313"</text><text y="1827">2.36"</text><text y="1883">2.11"</text><text y="1939">3.05"</text><text y="1995">3.42"</text><text y="2051">4.28"</text></g>
 <g transform="translate(1539,0) scale(.76,1)"><text y="1772">8"</text><text y="1827">3.18"</text><text y="1883">3.00"</text><text y="1939">3.94"</text><text y="1995">4.32"</text><text y="2051">5.17"</text></g>
 <g transform="translate(1676,0) scale(.76,1)"><text x="-17" y="1772">10"</text><text y="1827">4.14"</text><text y="1883">4.00"</text><text y="1939">4.94"</text><text y="1995">5.32"</text><text y="2051">6.17"</text></g>
 <g transform="translate(1808,0) scale(.76,1)"><text x="-17" y="1772">12"</text><text y="1827">5.11"</text><text y="1883">5.00"</text><text y="1939">5.94"</text><text y="1995">6.32"</text><text y="2051">7.17"</text></g>
 <g transform="translate(1939,0) scale(.76,1)"><text x="-17" y="1772">16"</text><text y="1827">7.17"</text><text y="1883">7.09"</text><text y="1939">8.03"</text><text y="1995">8.41"</text><text y="2051">9.26"</text></g>
</g>

<!-- Drawing 5 -->
<path d="M1333.1,2668 A267,267 0 1 1 1864.9,2668 Z" fill="#e4e5e7"/>
<path d="M1333.1,2668 A267,267 0 1 1 1864.9,2668" fill="none" stroke="#111" stroke-width="3"/>
<path d="M1498.8,2668 A103,103 0 1 1 1699.2,2668" fill="none" stroke="#111" stroke-width="3"/>
<path d="M1559.8,2668 A46,46 0 1 1 1638.2,2668 Z" fill="#c2c3c5"/>
<path d="M1559.8,2668 A46,46 0 1 1 1638.2,2668" fill="none" stroke="#111" stroke-width="3"/>
<rect x="1588" y="2584" width="22" height="25" fill="#fff" stroke="#111" stroke-width="3"/>
<use href="#cal" transform="translate(1599,2644)"/>
<g stroke="#111" fill="none" stroke-width="1.6">
 <path d="M1138,2270H1544M1186,2325H1355M1864,2325H2000M1238,2361H1336M1866,2361H1968M1186,2445H1336M1862,2445H1936M1839,2428H1904M1138,2538H1476"/>
 <path d="M1336,2079V2443M1864,2079V2443M1385,2115V2318M1815,2115V2318M1398,2160V2322M1804,2160V2322M1531,2191V2275M1667,2191V2275M1196,2246V2325M1196,2538V2572M1243,2445V2462"/>
 <path d="M1355,2325H1864M1336,2361H1866M1336,2445H1862M1336,2644H2002M1739,2538H1843M1599,2264V2668M1385,2318V2470M1815,2318V2470M1398,2322V2400M1804,2322V2400M1531,2275V2370M1667,2275V2370" stroke-dasharray="16 9"/>
</g>
<g stroke="#111" stroke-width="1.8" marker-start="url(#a)" marker-end="url(#a)">
 <line x1="1336" y1="2090" x2="1864" y2="2090"/>
 <line x1="1385" y1="2126" x2="1815" y2="2126"/>
 <line x1="1398" y1="2165" x2="1804" y2="2165"/>
 <line x1="1531" y1="2199" x2="1667" y2="2199"/>
 <line x1="1196" y1="2325" x2="1196" y2="2445"/>
 <line x1="1196" y1="2445" x2="1196" y2="2538"/>
 <line x1="1243" y1="2361" x2="1243" y2="2445"/>
 <line x1="1898" y1="2428" x2="1898" y2="2644"/>
 <line x1="1930" y1="2445" x2="1930" y2="2644"/>
 <line x1="1963" y1="2361" x2="1963" y2="2644"/>
 <line x1="1993" y1="2325" x2="1993" y2="2644"/>
</g>
<g stroke="#111" stroke-width="1.8">
 <line x1="1144" y1="2270" x2="1144" y2="2372" marker-start="url(#a)"/>
 <line x1="1144" y1="2436" x2="1144" y2="2538" marker-end="url(#a)"/>
</g>
<polyline points="1296,2570 1264,2570 1366,2466" fill="none" stroke="#111" stroke-width="1.6" marker-end="url(#a)"/>
<g fill="#fff">
 <rect x="1885" y="2505" width="26" height="38"/><rect x="1917" y="2505" width="26" height="38"/><rect x="1950" y="2505" width="26" height="38"/><rect x="1980" y="2505" width="26" height="38"/>
</g>
<g class="b" font-size="27" text-anchor="middle">
 <text class="h" x="1598" y="2099" textLength="135" lengthAdjust="spacingAndGlyphs">5.75 (146.1)</text>
 <text class="h" x="1598" y="2135" textLength="163" lengthAdjust="spacingAndGlyphs">4.750 (120.65)</text>
 <text class="h" x="1598" y="2174" textLength="163" lengthAdjust="spacingAndGlyphs">4.500 (114.30)</text>
 <text transform="translate(1599,2225) scale(.88,1)">1.500</text><text transform="translate(1599,2256) scale(.88,1)">(38.10)</text>
 <text transform="translate(1196,2208) scale(.88,1)">1.312</text><text transform="translate(1196,2238) scale(.88,1)">(33.32)</text>
 <text transform="translate(1144,2399) scale(.88,1)">2.840</text><text transform="translate(1144,2428) scale(.88,1)">(72.14)</text>
 <text transform="translate(1245,2484) scale(.88,1)">.935</text><text transform="translate(1245,2511) scale(.88,1)">(23.75)</text>
 <text transform="translate(1196,2594) scale(.88,1)">1.000</text><text transform="translate(1196,2621) scale(.88,1)">(25.40)</text>
</g>
<g class="b">
 <text class="hg" x="1300" y="2581" font-size="27" textLength="107" lengthAdjust="spacingAndGlyphs">Ø.500 [2]</text>
 <text class="hg" x="1296" y="2611" font-size="27" textLength="76" lengthAdjust="spacingAndGlyphs">(12.70)</text>
</g>
<g class="b" font-size="35" text-anchor="middle">
 <text transform="translate(1898,2536) scale(.8,1)">E</text>
 <text transform="translate(1930,2536) scale(.8,1)">F</text>
 <text transform="translate(1963,2536) scale(.8,1)">G</text>
 <text transform="translate(1993,2536) scale(.8,1)">H</text>
</g>
</svg>
</body></html>
